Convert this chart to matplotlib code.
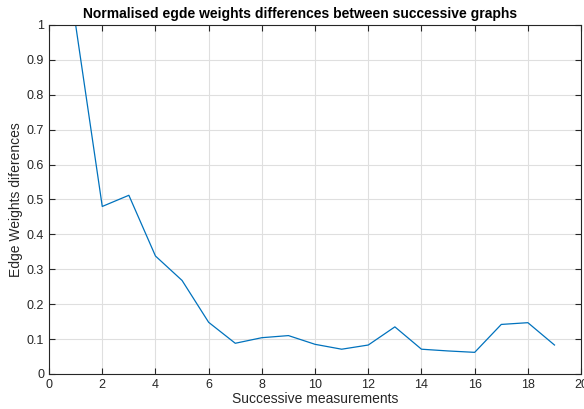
import matplotlib
matplotlib.use("Agg")
import matplotlib.pyplot as plt

# valores
medicoes = list(range(1, 20))
diferencas = [1.0, 0.48, 0.512, 0.338, 0.268, 0.148, 0.088, 0.104, 0.110, 0.085,
              0.071, 0.083, 0.135, 0.071, 0.066, 0.062, 0.142, 0.147, 0.083]
xticks = list(range(0, 21, 2))
yticks = [round(0.1 * i, 1) for i in range(11)]

plt.rcParams["font.family"] = ["Liberation Sans", "DejaVu Sans"]
cor_eixo = "#262626"

fig = plt.figure(figsize=(5.84, 4.09), dpi=100)
ax = fig.add_axes([0.084, 0.0856, 0.911, 0.8534])

ax.plot(medicoes, diferencas, color="#0072BD", linewidth=0.9)

ax.set_xlim(0, 20)
ax.set_ylim(0, 1)
ax.set_xticks(xticks)
ax.set_yticks(yticks)
ax.set_yticklabels(["0" if v == 0 else ("1" if v == 1 else f"{v:g}") for v in yticks])
ax.grid(True, color="#dfdfdf", linewidth=0.8)
ax.set_axisbelow(True)
ax.tick_params(direction="in", top=True, right=True, length=4, width=0.8,
               labelsize=9, colors=cor_eixo)
for s in ax.spines.values():
    s.set_color(cor_eixo)
    s.set_linewidth(0.8)

ax.set_xlabel("Successive measurements", fontsize=10, color=cor_eixo, labelpad=1)
ax.set_ylabel("Edge Weights diferences", fontsize=10, color=cor_eixo, labelpad=3)
ax.set_title("Normalised egde weights differences between successive graphs",
             fontsize=10, fontweight="bold", pad=5, x=0.472)

fig.savefig("out.png", dpi=100)
